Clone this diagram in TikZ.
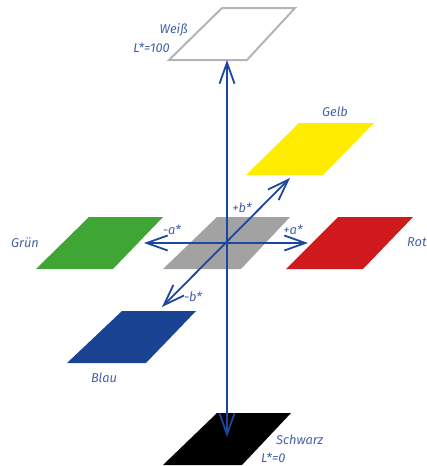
\documentclass[tikz,border=0pt]{standalone}
\usepackage{fontspec}
\setmainfont{Fira Sans}
\usetikzlibrary{arrows.meta}
\definecolor{axisblue}{HTML}{1C47A0}
\definecolor{labelblue}{HTML}{4561A8}
\definecolor{cgray}{HTML}{A2A2A2}
\definecolor{cgreen}{HTML}{3FA535}
\definecolor{cred}{HTML}{D0191C}
\definecolor{cyellow}{HTML}{FFED00}
\definecolor{cblue}{HTML}{1A4394}
\definecolor{cwhiteedge}{HTML}{B4B4B4}
\tikzset{
  lbl/.style={font=\itshape\fontsize{12.8}{14}\selectfont, text=labelblue, inner sep=0pt},
  axis/.style={draw=axisblue, line width=1.8pt, {Straight Barb[length=21pt,width=15pt,line width=1.8pt]}-{Straight Barb[length=21pt,width=15pt,line width=1.8pt]}},
}
\begin{document}
\begin{tikzpicture}[x=1pt,y=-1pt]
\useasboundingbox (0,0) rectangle (427,466);
% patches
\path[draw=cwhiteedge, line width=2pt, fill=white] (222,8) -- (295,8) -- (247,60) -- (169,60) -- cycle;
\path[fill=cyellow] (299,123) -- (374,123) -- (323,175) -- (246,175) -- cycle;
\path[fill=cgreen] (89,217) -- (163,217) -- (113,269) -- (36,269) -- cycle;
\path[fill=cgray] (217,217) -- (290,217) -- (241,269) -- (163,269) -- cycle;
\path[fill=cred] (338,217) -- (413,217) -- (363,269) -- (286,269) -- cycle;
\path[fill=cblue] (122,311) -- (196,311) -- (146,363) -- (67,363) -- cycle;
\path[fill=black] (217,413) -- (291,413) -- (242,465) -- (163,465) -- cycle;
% axis end points
\coordinate (Ltop) at (227,60);
\coordinate (Lbot) at (227,437);
\coordinate (Aneg) at (144,243);
\coordinate (Apos) at (308,243);
\coordinate (Bneg) at (162,307);
\coordinate (Bpos) at (290,178);
\draw[axis] (Ltop) -- (Lbot);
\draw[axis] (Aneg) -- (Apos);
\draw[axis] (Bneg) -- (Bpos);
% labels
\node[lbl, anchor=east] (weiss) at (188,30) {Weiß};
\node[lbl, anchor=east] (lhundert) at (170,48) {L*=100};
\node[lbl] (gelb) at (335,112) {Gelb};
\node[lbl, anchor=west] (gruen) at (11,243) {Grün};
\node[lbl, anchor=west] (rot) at (407,242) {Rot};
\node[lbl] (blau) at (104,378) {Blau};
\node[lbl, anchor=west] (schwarz) at (276,440) {Schwarz};
\node[lbl, anchor=west] (lnull) at (261,458) {L*=0};
\node[lbl] (bpos) at (242,208) {+b*};
\node[lbl] (aneg) at (172,230) {-a*};
\node[lbl] (apos) at (293,230) {+a*};
\node[lbl] (bneg) at (193,297) {-b*};
\end{tikzpicture}
\end{document}
